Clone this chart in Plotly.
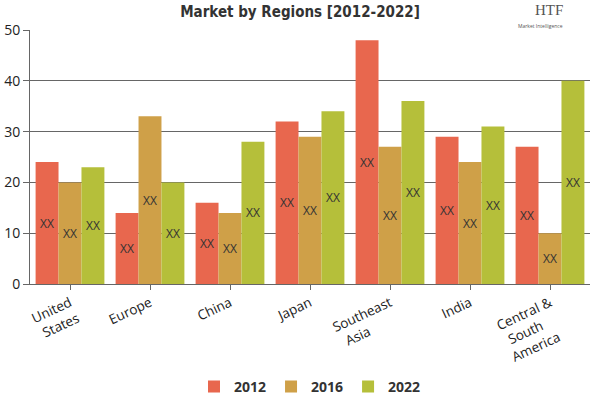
import plotly.graph_objects as go

regions = ["United<br>States", "Europe", "China", "Japan",
           "Southeast<br>Asia\u00a0\u00a0\u00a0\u00a0\u00a0\u00a0\u00a0\u00a0\u00a0", "India",
           "Central &<br>South\u00a0\u00a0\u00a0\u00a0\u00a0<br>America\u00a0\u00a0"]
years = ["2012", "2016", "2022"]
v2012 = [24, 14, 16, 32, 48, 29, 27]
v2016 = [20, 33, 14, 29, 27, 24, 10]
v2022 = [23, 20, 28, 34, 36, 31, 40]
colors = ["#E8674E", "#CFA048", "#B5BF3A"]
label_text = "XX"

fig = go.Figure()
for name, vals, col in zip(years, [v2012, v2016, v2022], colors):
    fig.add_trace(go.Bar(
        x=regions, y=vals, name="<b>" + name + "</b>",
        marker=dict(color=col, line=dict(width=0)),
        text=[label_text] * len(vals), textposition="inside",
        insidetextanchor="middle", constraintext="none",
        textfont=dict(size=12, color="#333333", family="Open Sans"),
        textangle=0,
    ))

fig.update_layout(
    width=600, height=400,
    barmode="group", bargap=0.14, bargroupgap=0,
    plot_bgcolor="white", paper_bgcolor="white",
    margin=dict(l=30, r=10, t=30, b=116, autoexpand=False),
    font=dict(family="Open Sans", color="#333333"),
    title=dict(text="<b>Market by Regions [2012-2022]</b>", x=0.5, xanchor="center",
               y=0.985, yanchor="top",
               font=dict(family="DejaVu Sans Condensed", size=15, color="#333333")),
    legend=dict(orientation="h", x=0.5, xanchor="center", y=-0.405, yanchor="middle",
                font=dict(size=14, color="#333333", family="Open Sans"),
                itemwidth=30, traceorder="normal"),
)
fig.update_yaxes(range=[0, 50], dtick=10, showgrid=True, gridcolor="#666666", gridwidth=1,
                 showline=True, linecolor="#666666", ticks="outside", ticklen=6,
                 tickcolor="#666666", tickfont=dict(size=14, color="#222222"), zeroline=False,
                 automargin=False)
fig.update_xaxes(showline=True, linecolor="#666666", ticks="outside", ticklen=5,
                 tickcolor="#666666", tickangle=-25, tickfont=dict(size=13.5, color="#222222"),
                 automargin=False)

fig.add_annotation(text="HTF", x=0.955, y=1.04, xref="paper", yref="paper", yanchor="bottom",
                   showarrow=False, font=dict(family="Liberation Serif", size=15, color="#555555"))
fig.add_annotation(text="Market Intelligence", x=0.955, y=1.035, xref="paper", yref="paper",
                   yanchor="top", showarrow=False, font=dict(size=5, color="#555555"))

fig.write_html("out.html")
